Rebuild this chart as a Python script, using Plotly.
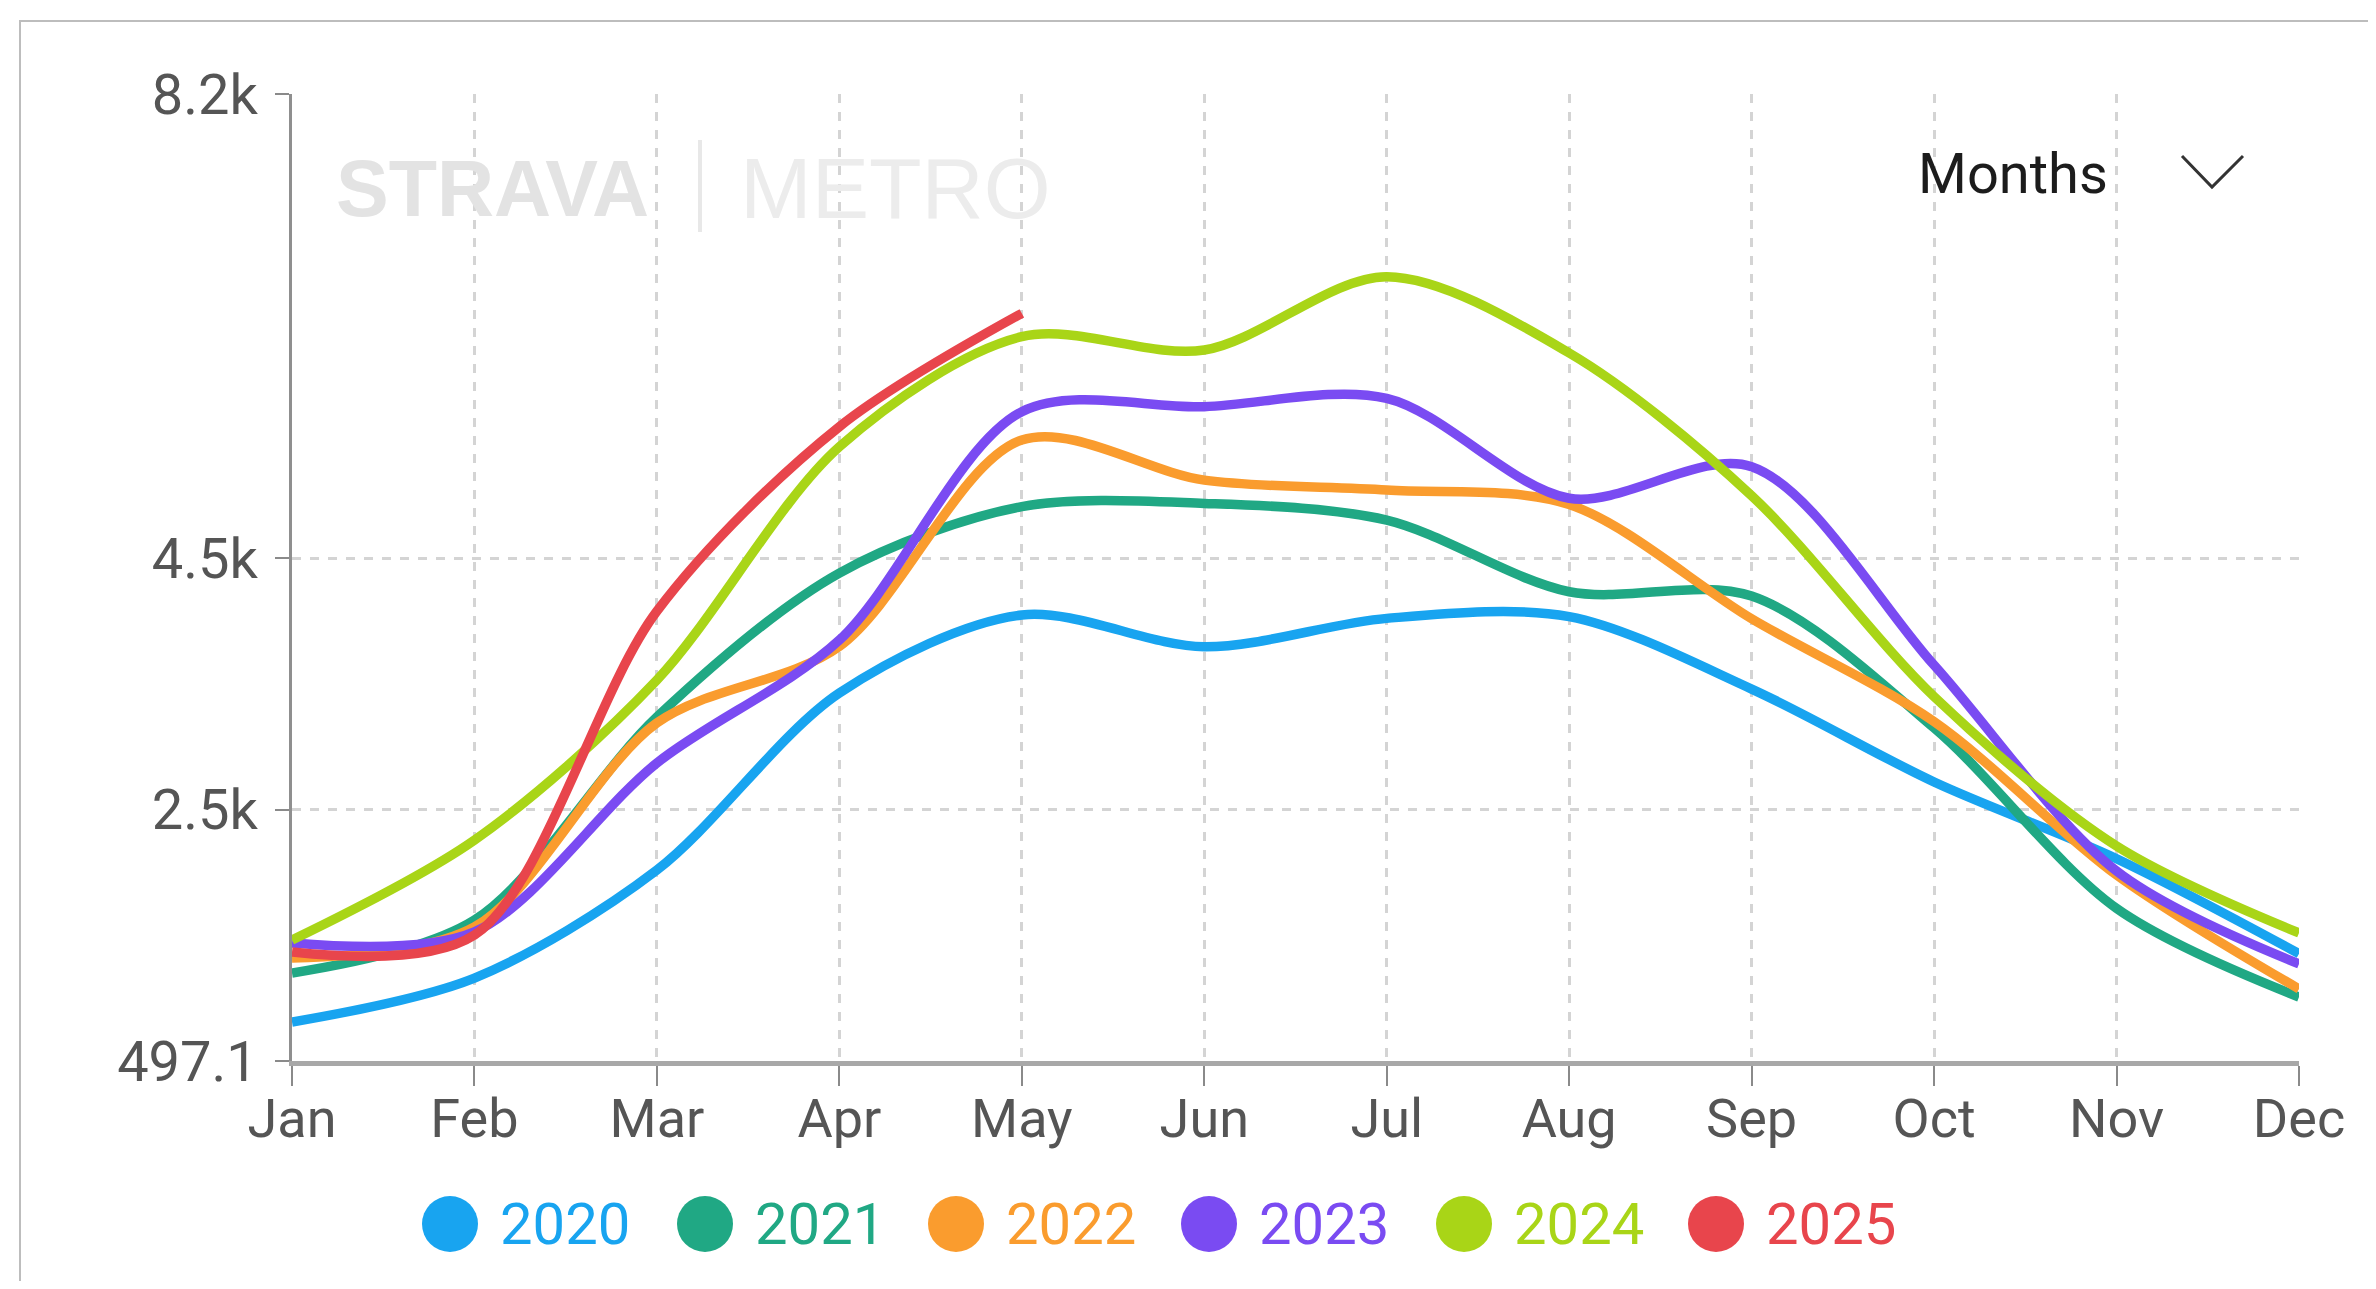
import plotly.graph_objects as go

months = ["Jan", "Feb", "Mar", "Apr", "May", "Jun", "Jul", "Aug", "Sep", "Oct", "Nov", "Dec"]
years = ["2020", "2021", "2022", "2023", "2024", "2025"]

v2020 = [808, 1158, 2018, 3428, 4050, 3797, 4023, 4037, 3460, 2720, 2108, 1352]
v2021 = [1198, 1620, 3237, 4384, 4913, 4939, 4806, 4235, 4201, 3150, 1713, 1007]
v2022 = [1317, 1565, 3190, 3800, 5444, 5124, 5045, 4930, 4020, 3200, 1979, 1071]
v2023 = [1437, 1525, 2871, 3850, 5669, 5709, 5776, 4980, 5231, 3650, 2010, 1270]
v2024 = [1461, 2257, 3532, 5390, 6267, 6161, 6745, 6137, 5000, 3400, 2210, 1517]
v2025 = [1365, 1500, 4080, 5550, 6453]

series = [v2020, v2021, v2022, v2023, v2024, v2025]
colors = ["#18A4F0", "#20A884", "#FA9C2E", "#7A4BF2", "#A9D517", "#E8454C"]

y_tickvals = [497.1, 2500, 4500, 8200]
y_ticktext = ["497.1", "2.5k", "4.5k", "8.2k"]

# page has an 8px body margin; work in screen pixels and convert
OFF = 8
W, H = 2376 - 2 * OFF, 1289 - 2 * OFF
L = 292 - OFF
T = 94 - OFF
R = W - (2299 - OFF)
B = H - (1061 - OFF)
PW, PH = W - L - R, H - T - B

def px(x):
    return (x - OFF - L) / PW

def py(y):
    return (H - B - (y - OFF)) / PH

FONT = "Roboto, Liberation Sans, Arial"

fig = go.Figure()
for name, vals, col in zip(years, series, colors):
    fig.add_trace(go.Scatter(
        x=months[:len(vals)], y=vals, name=name, mode="lines",
        line=dict(color=col, width=9.5, shape="spline", smoothing=0.9),
        showlegend=False, hoverinfo="x+y+name",
    ))

shapes = []
annotations = []

# card border
shapes.append(dict(type="rect", xref="paper", yref="paper",
                   x0=px(20), x1=px(2400), y0=py(1320), y1=py(21),
                   line=dict(color="#bdbdbd", width=2), fillcolor="rgba(0,0,0,0)", layer="below"))

# watermark
annotations.append(dict(xref="paper", yref="paper", x=px(334), y=py(188), xanchor="left", yanchor="middle",
                        text="<b>STRAVA</b>", showarrow=False,
                        font=dict(family="Liberation Sans, Arial", size=79, color="#e3e3e3")))
shapes.append(dict(type="line", xref="paper", yref="paper", x0=px(700), x1=px(700), y0=py(140), y1=py(232),
                   line=dict(color="#e8e8e8", width=4), layer="below"))
annotations.append(dict(xref="paper", yref="paper", x=px(738), y=py(188), xanchor="left", yanchor="middle",
                        text="METRO", showarrow=False,
                        font=dict(family="Liberation Sans, Arial", size=86, color="#ececec")))

# Months selector
annotations.append(dict(xref="paper", yref="paper", x=px(1916), y=py(174), xanchor="left", yanchor="middle",
                        text="Months", showarrow=False,
                        font=dict(family=FONT, size=56, color="#1c1c1c")))
shapes.append(dict(type="path", xref="paper", yref="paper",
                   path=f"M {px(2182)},{py(156)} L {px(2212)},{py(187)} L {px(2243)},{py(156)}",
                   line=dict(color="#333333", width=3)))

# custom legend
leg_cx = [450, 705, 956, 1209, 1464, 1716]
for name, col, cx in zip(years, colors, leg_cx):
    shapes.append(dict(type="circle", xref="paper", yref="paper",
                       xsizemode="pixel", ysizemode="pixel",
                       xanchor=px(cx), yanchor=py(1224),
                       x0=-28, x1=28, y0=-28, y1=28,
                       fillcolor=col, line=dict(width=0)))
    annotations.append(dict(xref="paper", yref="paper", x=px(cx + 48), y=py(1224),
                            xanchor="left", yanchor="middle", text=name, showarrow=False,
                            font=dict(family=FONT, size=58, color=col)))

fig.update_layout(
    width=W, height=H,
    margin=dict(l=L, r=R, t=T, b=B),
    paper_bgcolor="white", plot_bgcolor="white",
    shapes=shapes, annotations=annotations,
    font=dict(family=FONT, color="#555555"),
    showlegend=False,
)
fig.update_xaxes(
    type="category", categoryorder="array", categoryarray=months,
    range=[0, 11], tickvals=months,
    showgrid=True, gridcolor="#d4d4d4", gridwidth=3, griddash="dash",
    showline=True, linecolor="#a8a8a8", linewidth=5,
    ticks="outside", ticklen=20, tickwidth=2, tickcolor="#8a8a8a",
    tickfont=dict(family=FONT, size=54, color="#555555"),
    ticklabelstandoff=-14,
    zeroline=False,
)
fig.update_yaxes(
    range=[497.1, 8200], tickvals=y_tickvals, ticktext=y_ticktext,
    showgrid=True, gridcolor="#d4d4d4", gridwidth=3, griddash="dash",
    showline=True, linecolor="#8f8f8f", linewidth=3,
    ticks="outside", ticklen=14, tickwidth=2, tickcolor="#8a8a8a",
    tickfont=dict(family=FONT, size=56, color="#555555"),
    ticklabelstandoff=6,
    zeroline=False,
)

fig.write_html("out.html")
